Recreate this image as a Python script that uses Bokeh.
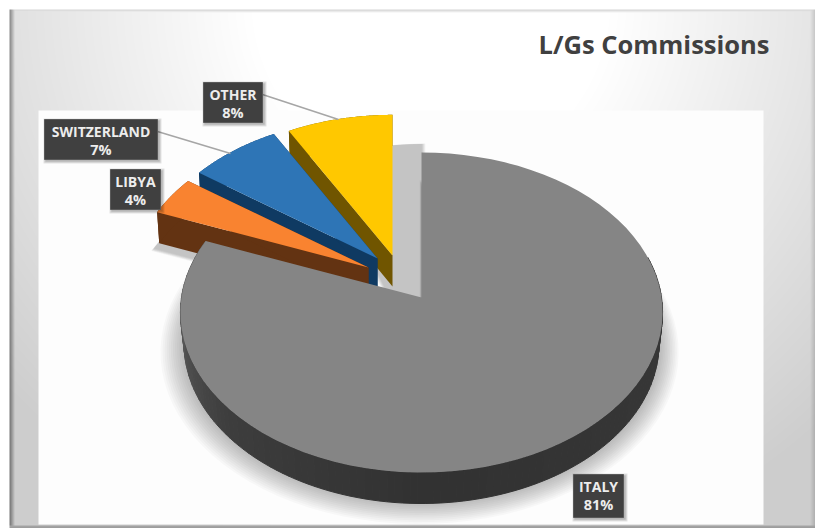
import numpy as np
from bokeh.core.properties import value
from bokeh.embed import file_html
from bokeh.models import Range1d
from bokeh.plotting import figure
from bokeh.resources import INLINE

W, H = 815, 528

categories = ["ITALY", "LIBYA", "SWITZERLAND", "OTHER"]
shares = [81, 4, 7, 8]
top_colors = ["#858585", "#F98330", "#2E75B6", "#FFC800"]
wall_colors = ["#3A3A3A", "#633312", "#0F3A62", "#705500"]
title = "L/Gs Commissions"

# Pie projection: a tilted disc seen in perspective, in page pixels
RX, RY, PERSP = 240.0, 158.6, 0.0938
DEPTH = 31.0

# Where each slice's tip sits once pulled out, and how far it is scaled
tips = {"ITALY": (421, 297, 1.0), "LIBYA": (368, 267, 0.98),
        "SWITZERLAND": (377, 258, 0.97), "OTHER": (392, 255, 0.97)}

# Label boxes (left, top, right, bottom) and their leader lines
boxes = {"ITALY": (573, 474, 623, 517), "LIBYA": (110, 169, 160, 209),
         "SWITZERLAND": (44, 119, 157, 159), "OTHER": (203, 82, 262, 122)}
leaders = {"SWITZERLAND": ((157, 131), (230, 153)), "OTHER": ((262, 94), (338, 119))}


def fy(y):
    """Page y (downwards) to plot y (upwards)."""
    return H - np.asarray(y, dtype=float)


def rim(theta, tip, drop=0.0, shrink=1.0):
    """Rim point(s) of a slice for clockwise angles from 12 o'clock, in degrees."""
    t = np.radians(theta)
    u, v = np.sin(t), np.cos(t)
    d = 1 + PERSP * v
    return tip[0] + shrink * tip[2] * RX * u / d, tip[1] - tip[2] * RY * v / d + drop


def backdrop():
    """Bevelled panel: soft grey edges and a near-white plot area."""
    yy, xx = np.mgrid[0:H, 0:W]
    dist = np.hypot(xx - 430.0, yy * 1.0)
    g = 255 - 50 * np.clip((dist - 180) / 400, 0, 1)
    # bevel on the outer edges
    g = np.where(xx < 14, g - (14 - xx) * 17, g)
    g = np.where(xx > 809, g - (xx - 809) * 6, g)
    g = np.where(yy < 12, np.minimum(g, 255 - (12 - yy) * 14), g)
    g = np.where(yy > 524, 170 - (yy - 524) * 5, g)
    # plot area
    inner = (xx >= 38) & (xx < 763) & (yy >= 110) & (yy < 524)
    g = np.where(inner, 253, g)
    # page margin outside the panel
    g = np.where((xx < 9) | (yy < 9), 255, g)
    g = g.astype(np.uint32)
    img = 255 << 24 | g << 16 | g << 8 | g
    return img[::-1].astype(np.uint32)


p = figure(width=W, height=H, x_range=Range1d(0, W), y_range=Range1d(0, H),
           x_axis_type=None, y_axis_type=None, toolbar_location=None,
           output_backend="svg", min_border=0, outline_line_color=None,
           background_fill_color="white", border_fill_color="white")
p.grid.visible = False

p.image_rgba(image=[backdrop()], x=0, y=0, dw=W, dh=H)

starts = np.cumsum([0] + shares[:-1]) / sum(shares) * 360
ends = np.cumsum(shares) / sum(shares) * 360


def sector(i, tip, drop=0.0, grow=1.0, dx=0.0, dy=0.0, tip_extra=0.0):
    th = np.linspace(starts[i], ends[i], 80)
    x, y = rim(th, tip, drop)
    xs = np.r_[tip[0], x]
    ys = np.r_[tip[1] + drop + tip_extra, y]
    cx, cy = xs.mean(), ys.mean()
    return cx + (xs - cx) * grow + dx, cy + (ys - cy) * grow + dy


def soft(xs_fn, color="#000000", layers=9, alpha=0.035):
    for k in range(layers):
        xs, ys = xs_fn(k / (layers - 1))
        p.patch(xs, fy(ys), fill_color=color, fill_alpha=alpha, line_color=None)


# Soft shadows beneath the slices
soft(lambda f: sector(0, tips["ITALY"], DEPTH, 0.99 + 0.085 * f, 0, 2 + 8 * f), layers=12, alpha=0.024)
soft(lambda f: sector(3, tips["OTHER"], 0, 0.97 + 0.07 * f, 31, 29, tip_extra=85), layers=10, alpha=0.022)
soft(lambda f: sector(1, tips["LIBYA"], DEPTH, 0.96 + 0.16 * f, -4, 6), layers=10, alpha=0.022)


def wall(i, tip, th_from, th_to, shade=None):
    """Extruded side of a slice: its outer rim and both straight cuts."""
    if shade is None:
        th = np.linspace(starts[i], ends[i], 80)
        xt, yt = rim(th, tip)
        xb, yb = rim(th, tip, DEPTH, 0.99)
        # straight cut faces
        for a in (starts[i], ends[i]):
            xo, yo = rim(a, tip)
            xd, yd = rim(a, tip, DEPTH, 0.99)
            p.patch(np.array([tip[0], xo, xd, tip[0]]),
                    fy([tip[1], yo, yd, tip[1] + DEPTH]),
                    fill_color=wall_colors[i], line_color=None)
        p.patch(np.r_[xt, xb[::-1]], fy(np.r_[yt, yb[::-1]]),
                fill_color=wall_colors[i], line_color=None)
        return
    # shaded rim drawn as narrow strips
    th = np.linspace(th_from, th_to, 130)
    for a, b in zip(th[:-1], th[1:]):
        xa, ya = rim(a, tip)
        xb, yb = rim(b, tip)
        xc, yc = rim(b, tip, DEPTH, 0.985)
        xd, yd = rim(a, tip, DEPTH, 0.985)
        c = shade(0.5 * (a + b))
        p.patch(np.array([xa, xb, xc, xd]), fy([ya, yb, yc, yd]),
                fill_color=c, line_color=c, line_width=1)


def italy_shade(a):
    # darkest at the front right, lighter towards the far left of the rim
    level = np.interp(a, [70, 180, 230, 270, 292], [58, 50, 62, 92, 100])
    n = int(level)
    return f"#{n:02x}{n:02x}{n:02x}"


# Far slices first, so nearer ones overlap their walls
for i in [3, 2, 1]:
    tip = tips[categories[i]]
    wall(i, tip, starts[i], ends[i])
    xs, ys = sector(i, tip)
    p.patch(xs, fy(ys), fill_color=top_colors[i], line_color=None)

wall(0, tips["ITALY"], 75, ends[0], italy_shade)
xs, ys = sector(0, tips["ITALY"])
p.patch(xs, fy(ys), fill_color=top_colors[0], line_color=None)

# Leader lines
for a, b in leaders.values():
    p.line([a[0], b[0]], fy([a[1], b[1]]), line_color="#A6A6A6", line_width=1.6)

# Data labels: dark boxes with a small shadow
for i, name in enumerate(categories):
    l, t, r, b = boxes[name]
    for k in (3, 2, 1):
        p.quad(left=l - k + 2, right=r + k + 1, top=fy(t - k + 2), bottom=fy(b + k + 1),
               fill_color="#000000", fill_alpha=0.10, line_color=None)
    p.quad(left=l, right=r, top=fy(t), bottom=fy(b), fill_color="#404040",
           line_color="#595959", line_width=1)
    cx = 0.5 * (l + r)
    p.text(x=[cx], y=fy([t + 12]), text=[name], text_color="#EDEDED",
           text_font=value("Open Sans"), text_font_style="bold", text_font_size="14px",
           text_align="center", text_baseline="middle")
    p.text(x=[cx], y=fy([t + 30]), text=[f"{shares[i]}%"], text_color="#EDEDED",
           text_font=value("Open Sans"), text_font_style="bold", text_font_size="14.5px",
           text_align="center", text_baseline="middle")

p.text(x=[769], y=fy([43]), text=[title], text_color="#404040",
       text_font=value("Open Sans"), text_font_style="bold", text_font_size="25.5px",
       text_align="right", text_baseline="middle")

open("out.html", "w").write(file_html(p, INLINE))
